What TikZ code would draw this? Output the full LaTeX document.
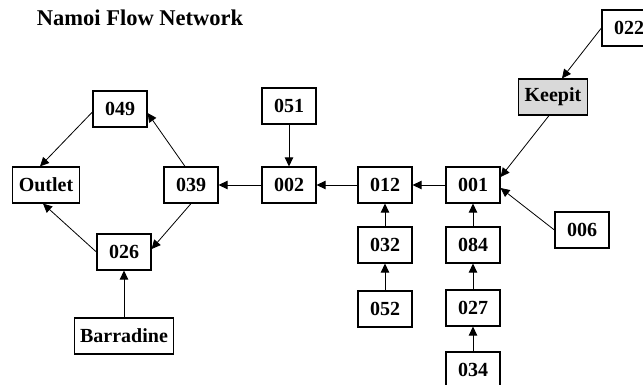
\documentclass[tikz,border=0pt]{standalone}
\usepackage{fontspec}
\setmainfont{Liberation Serif}
\usetikzlibrary{arrows.meta, positioning}

\begin{document}
\begin{tikzpicture}[
    x=1pt, y=1pt,
    on grid,
    >={Triangle[length=9pt,width=8.5pt]},
    box/.style={rectangle, draw=black, fill=#1, line width=1.2pt, minimum width=54pt, minimum height=36pt, inner xsep=6pt, font=\fontsize{20}{24}\selectfont\bfseries},
    box/.default=white,
    arr/.style={->, line width=0.8pt, color=black},
    ttl/.style={font=\fontsize{22.5}{26}\selectfont\bfseries}
]
\useasboundingbox (0,0) rectangle (643,384);

% Title
\node[ttl] (title) at (140,366) {Namoi Flow Network};

% Main river, right to left
\node[box] (g001) at (473,199) {001};
\node[box, left=88pt of g001] (g012) {012};
\node[box, left=96pt of g012] (g002) {002};
\node[box, left=98pt of g002] (g039) {039};
\node[box, left=145pt of g039] (outlet) {Outlet};

% Loop round the outlet
\node[box, above left=76pt and 71pt of g039] (g049) {049};
\node[box, below left=67pt and 67pt of g039] (g026) {026};
\node[box, below=84pt of g026] (barradine) {Barradine};

% Tributaries
\node[box, above=79pt of g002] (g051) {051};
\node[box, below=60pt of g012] (g032) {032};
\node[box, below=64pt of g032] (g052) {052};
\node[box, below=60pt of g001] (g084) {084};
\node[box, below=63pt of g084] (g027) {027};
\node[box, below=62pt of g027] (g034) {034};

% Upstream of 001
\node[box=black!15, above right=88pt and 80pt of g001] (keepit) {Keepit};
\node[box, above right=69pt and 76pt of keepit] (g022) {022};
\node[box, below right=45pt and 109pt of g001] (g006) {006};

% ---- ARROWS ----
\draw[arr] (g001) -- (g012);
\draw[arr] (g012) -- (g002);
\draw[arr] (g002) -- (g039);
\draw[arr] (g051) -- (g002);

% Around the outlet
\draw[arr] ([xshift=-6pt]g039.north) -- ([yshift=-4pt]g049.east);
\draw[arr] ([yshift=-3pt]g049.west) -- ([xshift=-6pt]outlet.north);
\draw[arr] (g039.south) -- ([yshift=3pt]g026.east);
\draw[arr] (g026.west) -- ([xshift=-3pt]outlet.south);
\draw[arr] (barradine) -- (g026);

% Tributary chains
\draw[arr] (g032) -- (g012);
\draw[arr] (g052) -- (g032);
\draw[arr] (g084) -- (g001);
\draw[arr] (g027) -- (g084);
\draw[arr] (g034) -- (g027);

% Dam and side inflows
\draw[arr] (g022.west) -- ([xshift=9pt]keepit.north);
\draw[arr] ([xshift=-4pt]keepit.south) -- ([yshift=8pt]g001.east);
\draw[arr] (g006.west) -- ([yshift=-3pt]g001.east);

\end{tikzpicture}
\end{document}
